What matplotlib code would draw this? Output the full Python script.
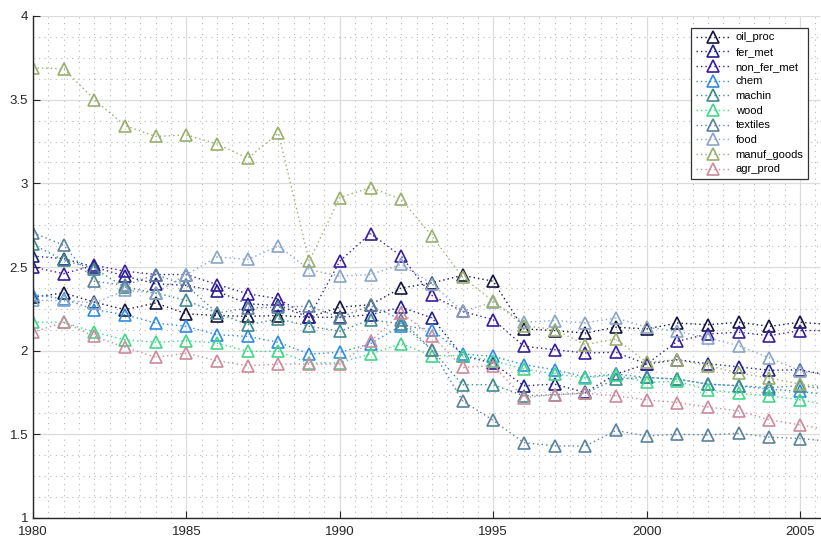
"""Indices by sector, 1980-2006, MATLAB-style dotted lines with triangle markers."""

import matplotlib

matplotlib.use("Agg")
import matplotlib.pyplot as plt
from matplotlib.ticker import FormatStrFormatter, MultipleLocator

years = list(range(1980, 2007))

oil_proc = [2.32, 2.345, 2.29, 2.245, 2.285, 2.22, 2.21, 2.205, 2.21, 2.20, 2.26, 2.275, 2.375, 2.405,
            2.45, 2.415, 2.13, 2.12, 2.105, 2.14, 2.13, 2.165, 2.155, 2.17, 2.145, 2.17, 2.155]
fer_met = [2.565, 2.55, 2.50, 2.445, 2.40, 2.39, 2.355, 2.28, 2.27, 2.20, 2.20, 2.215, 2.26, 2.196,
           1.97, 1.925, 1.79, 1.80, 1.75, 1.86, 1.92, 1.946, 1.922, 1.903, 1.883, 1.886, 1.85]
non_fer_met = [2.50, 2.46, 2.51, 2.475, 2.455, 2.455, 2.395, 2.34, 2.31, 2.20, 2.535, 2.70, 2.565, 2.33,
               2.235, 2.185, 2.026, 2.006, 1.986, 1.99, 1.92, 2.056, 2.10, 2.11, 2.09, 2.12, 2.12]
chem = [2.335, 2.31, 2.245, 2.215, 2.165, 2.145, 2.095, 2.085, 2.05, 1.98, 1.99, 2.042, 2.15, 2.126,
        1.98, 1.966, 1.917, 1.886, 1.843, 1.86, 1.84, 1.83, 1.80, 1.79, 1.77, 1.756, 1.735]
machin = [2.635, 2.54, 2.49, 2.38, 2.345, 2.30, 2.225, 2.155, 2.19, 2.146, 2.116, 2.185, 2.16, 2.006,
          1.796, 1.797, 1.73, 1.737, 1.746, 1.83, 1.84, 1.83, 1.80, 1.79, 1.78, 1.79, 1.77]
wood = [2.17, 2.17, 2.11, 2.065, 2.05, 2.06, 2.045, 1.996, 1.996, 1.925, 1.928, 1.98, 2.042, 1.97,
        1.97, 1.94, 1.89, 1.862, 1.837, 1.855, 1.81, 1.817, 1.766, 1.746, 1.73, 1.707, 1.67]
textiles = [2.705, 2.63, 2.415, 2.39, 2.455, 2.39, 2.225, 2.255, 2.26, 2.266, 2.198, 2.27, 2.185, 2.006,
            1.70, 1.583, 1.45, 1.431, 1.43, 1.523, 1.49, 1.50, 1.497, 1.506, 1.483, 1.475, 1.458]
food = [2.30, 2.30, 2.285, 2.36, 2.345, 2.455, 2.56, 2.545, 2.625, 2.485, 2.445, 2.455, 2.515, 2.40,
        2.235, 2.29, 2.17, 2.18, 2.166, 2.196, 2.14, 2.116, 2.076, 2.03, 1.956, 1.88, 1.85]
manuf_goods = [3.69, 3.685, 3.50, 3.345, 3.28, 3.29, 3.235, 3.15, 3.30, 2.535, 2.915, 2.975, 2.905, 2.685,
               2.44, 2.295, 2.15, 2.126, 2.036, 2.07, 1.93, 1.946, 1.91, 1.866, 1.836, 1.80, 1.78]
agr_prod = [2.11, 2.17, 2.085, 2.02, 1.96, 1.985, 1.94, 1.91, 1.92, 1.92, 1.92, 2.056, 2.226, 2.09,
            1.90, 1.91, 1.72, 1.737, 1.746, 1.73, 1.706, 1.69, 1.663, 1.64, 1.587, 1.557, 1.526]

labels = ["oil_proc", "fer_met", "non_fer_met", "chem", "machin",
          "wood", "textiles", "food", "manuf_goods", "agr_prod"]
series = [oil_proc, fer_met, non_fer_met, chem, machin, wood, textiles, food, manuf_goods, agr_prod]
colors = ["#15153f", "#20208f", "#3a1c9c", "#2e8be6", "#3f8a8c",
          "#3ed988", "#5b829c", "#8aa6c6", "#9aae6e", "#cc8a9c"]

plt.rcParams["font.family"] = ["Liberation Sans", "DejaVu Sans"]

fig = plt.figure(figsize=(8.21, 5.37), dpi=100)
ax = fig.add_axes([33 / 821, 1 - 518 / 537, (820 - 33) / 821, (518 - 16) / 537])

for vals, lab, col in zip(series, labels, colors):
    ax.plot(years, vals, linestyle=(0, (1, 2.2)), linewidth=1.0, color=col,
            marker="^", markersize=8, markerfacecolor="none", markeredgewidth=1.2,
            markeredgecolor=col, label=lab)

ax.set_xlim(1980, 2005.65)
ax.set_ylim(1, 4)
ax.xaxis.set_major_locator(MultipleLocator(5))
ax.xaxis.set_minor_locator(MultipleLocator(0.5))
ax.yaxis.set_major_locator(MultipleLocator(0.5))
ax.yaxis.set_minor_locator(MultipleLocator(0.125))
ax.yaxis.set_major_formatter(FormatStrFormatter("%g"))

# grids: solid major, dotted minor
ax.grid(which="major", color="#dcdcdc", linewidth=0.9, linestyle="-")
ax.grid(which="minor", color="#b8b8b8", linewidth=0.8, linestyle=(0, (1, 4)))
ax.set_axisbelow(True)

for side in ("top", "right"):
    ax.spines[side].set_visible(False)
for side in ("left", "bottom"):
    ax.spines[side].set_color("#262626")
    ax.spines[side].set_linewidth(1.0)
ax.tick_params(which="major", direction="in", length=5, width=0.8, colors="#262626",
               labelsize=9.5, labelcolor="#262626")
ax.tick_params(axis="x", which="major", pad=6)
ax.tick_params(which="minor", length=0)

leg = ax.legend(loc="upper right", bbox_to_anchor=(808 / 821, 1 - 28 / 537),
                bbox_transform=fig.transFigure, borderaxespad=0, fontsize=8,
                handlelength=3.2, handletextpad=0.4, labelspacing=0.42,
                fancybox=False, framealpha=1, edgecolor="#333333", borderpad=0.4)
leg.get_frame().set_linewidth(0.9)

fig.savefig("out.png", dpi=100)
